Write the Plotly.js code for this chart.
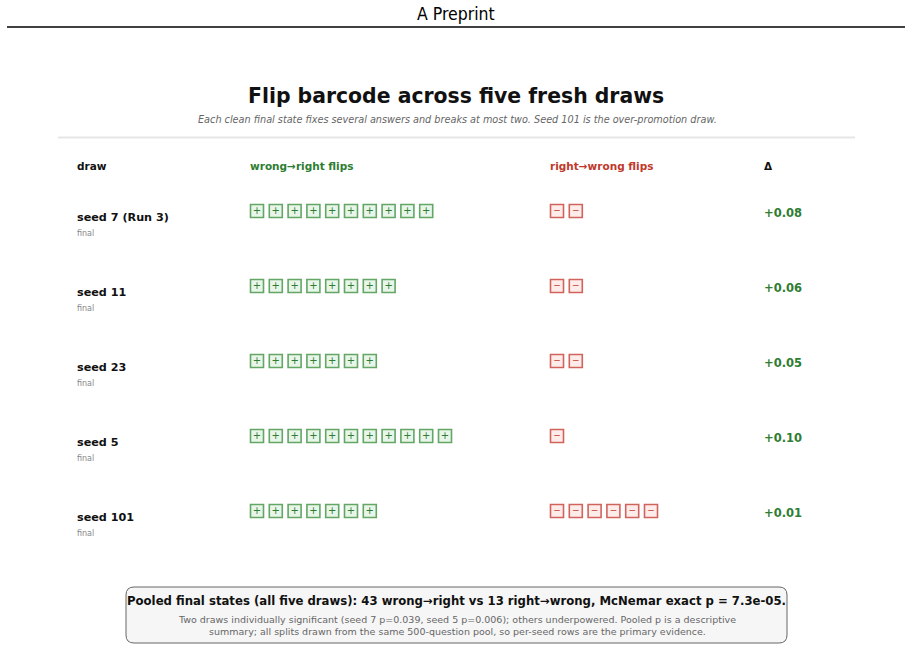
<!DOCTYPE html>
<html>
<head>
<meta charset="utf-8">
<script src="https://cdn.plot.ly/plotly-3.0.1.min.js"></script>
<style>
html,body{margin:0;padding:0;background:#fff;}
#chart{width:912px;height:651px;}
</style>
</head>
<body>
<div id="chart"></div>
<script>
// ---- data ----
const draws = ["seed 7 (Run 3)", "seed 11", "seed 23", "seed 5", "seed 101"];
const drawStates = ["final", "final", "final", "final", "final"];
const wrongToRight = [10, 8, 7, 11, 7];
const rightToWrong = [2, 2, 2, 1, 6];
const deltas = [0.08, 0.06, 0.05, 0.10, 0.01];
const columnHeaders = ["draw", "wrong\u2192right flips", "right\u2192wrong flips", "\u0394"];
const pageHeader = "A Preprint";
const titleText = "Flip barcode across five fresh draws";
const subtitleText = "Each clean final state fixes several answers and breaks at most two. Seed 101 is the over-promotion draw.";
const footerBold = "Pooled final states (all five draws): 43 wrong\u2192right vs 13 right\u2192wrong, McNemar exact p = 7.3e-05.";
const footerLines = [
  "Two draws individually significant (seed 7 p=0.039, seed 5 p=0.006); others underpowered. Pooled p is a descriptive",
  "summary; all splits drawn from the same 500-question pool, so per-seed rows are the primary evidence."
];

// ---- layout constants ----
const FONT = "DejaVu Sans, Verdana, sans-serif";
const GREEN = "#2e7d32", RED = "#c0392b";
const rowY = r => 211 + 75 * r;
const colX = {draw: 77, plus: 257, minus: 557, delta: 764};
const pitch = 18.8;

// ---- build marks ----
const px = [], py = [], mx = [], my = [];
draws.forEach((d, r) => {
  for (let i = 0; i < wrongToRight[r]; i++) { px.push(colX.plus + i * pitch); py.push(rowY(r)); }
  for (let i = 0; i < rightToWrong[r]; i++) { mx.push(colX.minus + i * pitch); my.push(rowY(r)); }
});

const traces = [
  {
    type: "scatter", mode: "markers+text", x: px, y: py,
    text: px.map(() => "+"), textposition: "middle center",
    textfont: {family: FONT, size: 10, color: GREEN},
    marker: {symbol: "square", size: 13, color: "#e8f5e9", line: {color: "#63a666", width: 1.6}},
    hoverinfo: "skip", showlegend: false, cliponaxis: false
  },
  {
    type: "scatter", mode: "markers+text", x: mx, y: my,
    text: mx.map(() => "\u2212"), textposition: "middle center",
    textfont: {family: FONT, size: 9, color: RED},
    marker: {symbol: "square", size: 13, color: "#fdecea", line: {color: "#d0645d", width: 1.6}},
    hoverinfo: "skip", showlegend: false, cliponaxis: false
  },
  {
    type: "scatter", mode: "text",
    x: draws.map(() => colX.delta), y: draws.map((d, r) => rowY(r) + 3),
    text: deltas.map(v => (v >= 0 ? "+" : "") + v.toFixed(2)),
    textposition: "middle right",
    textfont: {family: FONT, size: 11.5, color: GREEN, weight: "bold"},
    hoverinfo: "skip", showlegend: false, cliponaxis: false
  },
  {
    type: "scatter", mode: "text",
    x: draws.map(() => colX.draw), y: draws.map((d, r) => rowY(r) + 7),
    text: draws, textposition: "middle right",
    textfont: {family: FONT, size: 11.2, color: "#111", weight: "bold"},
    hoverinfo: "skip", showlegend: false, cliponaxis: false
  },
  {
    type: "scatter", mode: "text",
    x: draws.map(() => colX.draw), y: draws.map((d, r) => rowY(r) + 23),
    text: drawStates, textposition: "middle right",
    textfont: {family: FONT, size: 8, color: "#888"},
    hoverinfo: "skip", showlegend: false, cliponaxis: false
  }
];

const headerColors = ["#111", GREEN, RED, "#111"];
const headerX = [75, 248, 548, 762];

const annotations = [
  {text: pageHeader, x: 456, y: 14, xref: "x", yref: "y", showarrow: false,
   font: {family: "DejaVu Sans Condensed, Liberation Sans Narrow, sans-serif", size: 17.5, color: "#000"}},
  {text: "<b>" + titleText + "</b>", x: 456, y: 96, xref: "x", yref: "y", showarrow: false,
   font: {family: FONT, size: 20.4, color: "#111"}},
  {text: "<i>" + subtitleText + "</i>", x: 457, y: 119, xref: "x", yref: "y", showarrow: false,
   font: {family: FONT, size: 9.7, color: "#666"}},
  {text: "<b>" + footerBold + "</b>", x: 456, y: 601, xref: "x", yref: "y", showarrow: false,
   font: {family: FONT, size: 11.7, color: "#111"}},
  {text: footerLines[0], x: 457, y: 619, xref: "x", yref: "y", showarrow: false,
   font: {family: FONT, size: 9.5, color: "#666"}},
  {text: footerLines[1], x: 457, y: 631, xref: "x", yref: "y", showarrow: false,
   font: {family: FONT, size: 9.5, color: "#666"}}
];
columnHeaders.forEach((h, i) => {
  annotations.push({text: "<b>" + h + "</b>", x: headerX[i], y: 166, xref: "x", yref: "y",
    xanchor: "left", showarrow: false, font: {family: FONT, size: 10.5, color: headerColors[i]}});
});

function roundRect(x0, y0, x1, y1, r) {
  return `M${x0 + r},${y0} L${x1 - r},${y0} Q${x1},${y0} ${x1},${y0 + r} L${x1},${y1 - r} Q${x1},${y1} ${x1 - r},${y1} ` +
         `L${x0 + r},${y1} Q${x0},${y1} ${x0},${y1 - r} L${x0},${y0 + r} Q${x0},${y0} ${x0 + r},${y0} Z`;
}

const shapes = [
  {type: "line", xref: "x", yref: "y", x0: 7, x1: 905, y0: 27, y1: 27, line: {color: "#000", width: 1.3}},
  {type: "line", xref: "x", yref: "y", x0: 58, x1: 855, y0: 137.5, y1: 137.5, line: {color: "#e6e6e6", width: 1.8}},
  {type: "path", xref: "x", yref: "y", path: roundRect(126, 587, 787, 643, 8),
   fillcolor: "#f6f6f6", line: {color: "#666", width: 1}, layer: "below"}
];

const layout = {
  width: 912, height: 651,
  margin: {l: 0, r: 0, t: 0, b: 0},
  paper_bgcolor: "#fff", plot_bgcolor: "#fff",
  xaxis: {range: [0, 912], visible: false, fixedrange: true},
  yaxis: {range: [651, 0], visible: false, fixedrange: true},
  annotations: annotations,
  shapes: shapes,
  showlegend: false
};

Plotly.newPlot("chart", traces, layout, {displayModeBar: false, staticPlot: true});
</script>
</body>
</html>
